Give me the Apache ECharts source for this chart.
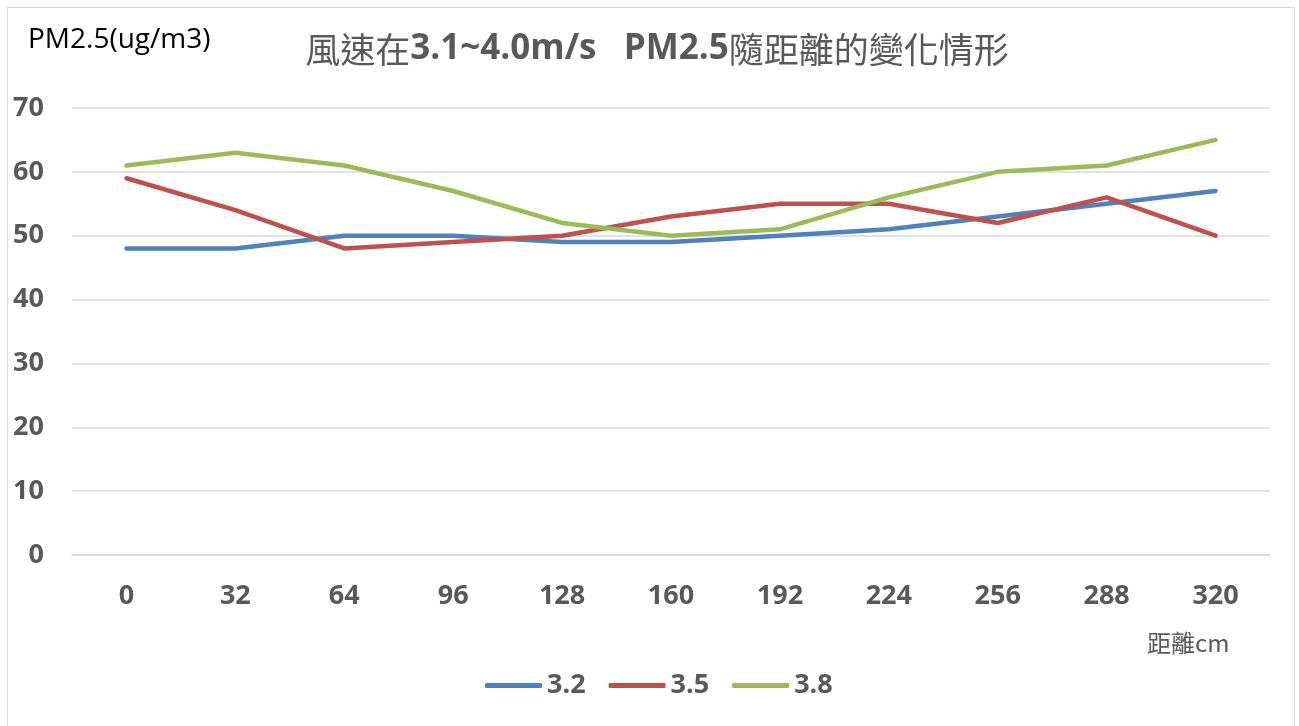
<!DOCTYPE html>
<html>
<head>
<meta charset="utf-8">
<script src="https://cdn.jsdelivr.net/npm/echarts@6/dist/echarts.min.js"></script>
<style>
  html, body { margin: 0; padding: 0; background: #ffffff; }
  #frame { position: absolute; left: 7px; top: 7px; width: 1288px; height: 740px; border: 1px solid #d9d9d9; box-sizing: border-box; }
  #chart { position: absolute; left: 0; top: 0; width: 1299px; height: 726px; }
</style>
</head>
<body>
<div id="frame"></div>
<div id="chart"></div>
<script>
// Distance (cm) along the x axis
const distances = ['0', '32', '64', '96', '128', '160', '192', '224', '256', '288', '320'];
// PM2.5 readings (ug/m3) per wind speed
const pm_3_2 = [48, 48, 50, 50, 49, 49, 50, 51, 53, 55, 57];
const pm_3_5 = [59, 54, 48, 49, 50, 53, 55, 55, 52, 56, 50];
const pm_3_8 = [61, 63, 61, 57, 52, 50, 51, 56, 60, 61, 65];
const seriesNames = ['3.2', '3.5', '3.8'];
const seriesColors = ['#4F81BD', '#C0504D', '#9BBB59'];

const latin = '"Open Sans", "Noto Sans CJK TC", sans-serif';
const cjk = '"Noto Sans CJK TC", "Open Sans", sans-serif';
const textGray = '#595959';

const chart = echarts.init(document.getElementById('chart'), null, { renderer: 'canvas' });

const mkLine = (name, data, color) => ({
  name: name,
  type: 'line',
  data: data,
  symbol: 'none',
  smooth: false,
  lineStyle: { width: 4.5, color: color, cap: 'round', join: 'round' },
  itemStyle: { color: color }
});

chart.setOption({
  animation: false,
  title: {
    text: '{n|風速在}{b|3.1~4.0m/s   PM2.5}{n|隨距離的變化情形}',
    left: 652,
    top: 27,
    textAlign: 'center',
    textStyle: {
      rich: {
        n: { fontFamily: cjk, fontSize: 35, color: textGray, fontWeight: 'normal' },
        b: { fontFamily: latin, fontSize: 35, color: textGray, fontWeight: 'bold' }
      }
    }
  },
  graphic: [
    {
      type: 'text',
      left: 28,
      top: 26,
      style: { text: 'PM2.5(ug/m3)', font: '28px ' + latin, fill: '#000000' }
    },
    {
      type: 'text',
      left: 1147,
      top: 631,
      style: { text: '距離cm', font: '24px ' + cjk, fill: textGray }
    }
  ],
  legend: {
    bottom: 22,
    left: 480,
    itemWidth: 57,
    itemHeight: 5,
    itemGap: 23,
    icon: 'roundRect',
    textStyle: { fontFamily: latin, fontSize: 27, fontWeight: 'bold', color: textGray },
    data: seriesNames
  },
  grid: { left: 72, right: 29, top: 108, bottom: 171 },
  xAxis: {
    type: 'category',
    data: distances,
    boundaryGap: true,
    axisLine: { show: true, lineStyle: { color: '#d9d9d9', width: 1.5 } },
    axisTick: { show: false },
    axisLabel: { margin: 28, fontFamily: latin, fontSize: 27, fontWeight: 'bold', color: textGray }
  },
  yAxis: {
    type: 'value',
    min: 0,
    max: 70,
    interval: 10,
    axisLine: { show: false },
    axisTick: { show: false },
    splitLine: { lineStyle: { color: '#d9d9d9', width: 1.5 } },
    axisLabel: { margin: 28, fontFamily: latin, fontSize: 27, fontWeight: 'bold', color: textGray }
  },
  series: [
    mkLine(seriesNames[0], pm_3_2, seriesColors[0]),
    mkLine(seriesNames[1], pm_3_5, seriesColors[1]),
    mkLine(seriesNames[2], pm_3_8, seriesColors[2])
  ]
});
</script>
</body>
</html>
